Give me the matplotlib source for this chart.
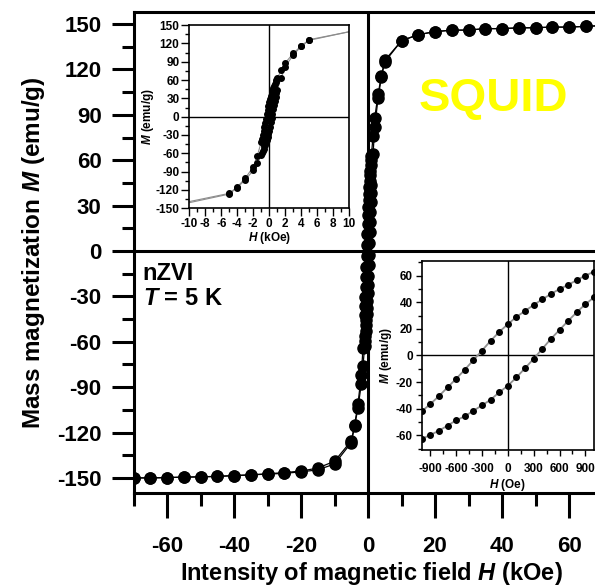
import numpy as np
import matplotlib
matplotlib.use("Agg")
import matplotlib.pyplot as plt
from matplotlib.ticker import MultipleLocator

plt.rcParams["font.family"] = ["Liberation Sans", "DejaVu Sans"]
plt.rcParams["font.weight"] = "bold"
plt.rcParams["axes.unicode_minus"] = False
plt.rcParams["mathtext.fontset"] = "custom"
plt.rcParams["mathtext.it"] = "Liberation Sans:italic:bold"
plt.rcParams["mathtext.rm"] = "Liberation Sans:bold"

# descending branch (+70 kOe -> -70 kOe)
H_down = [70, 65, 60, 55, 50, 45, 40, 35, 30, 25, 20, 15, 10,
          5, 4, 3, 2, 1.5,
          1.0, 0.9, 0.8, 0.7, 0.6, 0.5, 0.4, 0.3, 0.2, 0.1, 0.0,
          -0.1, -0.2, -0.3, -0.4, -0.5, -0.6, -0.7, -0.8, -0.9, -1.0,
          -1.5, -2, -3, -4, -5,
          -10, -15, -20, -25, -30, -35, -40, -45, -50, -55, -60, -65, -70]
M_down = [149, 148.5, 148, 148, 147.6, 147.5, 147, 147, 146, 146, 145, 143, 139,
          126, 116, 103.5, 88, 76,
          63, 60, 56.7, 53, 50, 46.2, 42.2, 38, 33.5, 29, 23.5,
          17.7, 11, 3.7, -3.5, -10.7, -17.5, -24, -30.5, -36.5, -42,
          -64, -82, -101, -115, -125.5,
          -139, -143.5, -145.5, -146.5, -147.3, -148, -148.5, -149, -149.3, -149.5, -149.8, -150, -150]

# ascending branch (-70 kOe -> +70 kOe)
H_up = [-70, -65, -60, -55, -50, -45, -40, -35, -30, -25, -20, -15, -10,
        -5, -4, -3, -2, -1.5,
        -1.0, -0.9, -0.8, -0.7, -0.6, -0.5, -0.4, -0.3, -0.2, -0.1, 0.0,
        0.1, 0.2, 0.3, 0.4, 0.5, 0.6, 0.7, 0.8, 0.9, 1.0,
        1.5, 2, 3, 4, 5,
        10, 15, 20, 25, 30, 35, 40, 45, 50, 55, 60, 65, 70]
M_up = [-150, -150, -149.8, -149.5, -149.3, -149, -148.5, -148, -147.5, -147, -146, -144.7, -140.8,
        -126.7, -116, -103.5, -88, -76,
        -62.7, -59.7, -56.5, -52.7, -48.7, -45.7, -41.5, -37.5, -33.2, -27.7, -22.7,
        -16.5, -9.5, -2.5, 5, 12.5, 19.2, 26, 32.5, 38.5, 43.7,
        64, 82, 101, 115, 125,
        139, 143, 145, 146, 146, 147, 147, 147.5, 147.6, 148, 148, 148.5, 149]

branches = [(np.array(H_down), np.array(M_down)), (np.array(H_up), np.array(M_up))]

fig = plt.figure(figsize=(5.95, 5.87), dpi=100)

# main plot
ax = fig.add_axes([0.2244, 0.1601, 0.7995, 0.8195])
ax.axhline(0, color="black", lw=2.2, zorder=1)
ax.axvline(0, color="black", lw=2.2, zorder=1)
for H, M in branches:
    ax.plot(H, M, "-", color="black", lw=0.9, marker="o", ms=8, zorder=3)

ax.set_xlim(-70, 72)
ax.set_ylim(-160, 158)
ax.set_xticks([-60, -40, -20, 0, 20, 40, 60])
ax.set_yticks(np.arange(-150, 151, 30))
ax.xaxis.set_minor_locator(MultipleLocator(10))
ax.yaxis.set_minor_locator(MultipleLocator(15))
ax.tick_params(which="major", direction="out", length=18, width=2.2, labelsize=16, pad=13)
ax.tick_params(which="minor", direction="out", length=9, width=2.2)
ax.tick_params(axis="y", which="major", length=16, pad=7)
for s in ax.spines.values():
    s.set_linewidth(2.2)
for lab in ax.get_xticklabels() + ax.get_yticklabels():
    lab.set_fontweight("bold")
ax.set_xlabel("Intensity of magnetic field $H$ (kOe)", fontsize=17, fontweight="bold", labelpad=2)
ax.set_ylabel("Mass magnetization $M$ (emu/g)", fontsize=17.5, fontweight="bold", labelpad=7)

fig.text(0.830, 0.832, "SQUID", color="#ffff00", fontsize=34, fontweight="bold",
         ha="center", va="center")
fig.text(0.240, 0.523, "nZVI", fontsize=17, fontweight="bold", va="baseline")
fig.text(0.240, 0.4804, "$T$ = 5 K", fontsize=17, fontweight="bold", va="baseline")

# inset: +-10 kOe
ax1 = fig.add_axes([0.318, 0.6451, 0.269, 0.3123])
ax1.axhline(0, color="black", lw=1, zorder=1)
ax1.axvline(0, color="black", lw=1, zorder=1)
for H, M in branches:
    ax1.plot(H, M, "-", color="#8c8c8c", lw=0.8, zorder=2)
    near = np.abs(H) <= 5
    ax1.plot(H[near], M[near], "o", color="black", ms=4, zorder=3)
ax1.set_xlim(-10, 10)
ax1.set_ylim(-150, 150)
ax1.set_xticks(np.arange(-10, 11, 2))
ax1.set_yticks(np.arange(-150, 151, 30))
ax1.xaxis.set_minor_locator(MultipleLocator(1))
ax1.yaxis.set_minor_locator(MultipleLocator(15))
ax1.tick_params(which="major", direction="out", length=5.5, width=1, labelsize=8.5, pad=1.5)
ax1.tick_params(which="minor", direction="out", length=3, width=1)
for s in ax1.spines.values():
    s.set_linewidth(1.2)
for lab in ax1.get_xticklabels() + ax1.get_yticklabels():
    lab.set_fontweight("bold")
ax1.set_xlabel("$H$ (kOe)", fontsize=8.5, fontweight="bold", labelpad=0)
ax1.set_ylabel("$M$ (emu/g)", fontsize=8.5, fontweight="bold", labelpad=0)

# inset: +-1000 Oe
ax2 = fig.add_axes([0.7087, 0.2334, 0.2896, 0.322])
ax2.axhline(0, color="black", lw=1, zorder=1)
ax2.axvline(0, color="black", lw=1, zorder=1)
for H, M in branches:
    low = np.abs(H) <= 1.0001
    ax2.plot(H[low] * 1000, M[low], "-", color="#909090", lw=1.3, marker="o",
             ms=4, mfc="black", mec="black", zorder=3)
ax2.set_xlim(-1000, 1000)
ax2.set_ylim(-71, 71)
ax2.set_xticks(np.arange(-900, 901, 300))
ax2.set_yticks(np.arange(-60, 61, 20))
ax2.xaxis.set_minor_locator(MultipleLocator(150))
ax2.yaxis.set_minor_locator(MultipleLocator(10))
ax2.tick_params(which="major", direction="out", length=4.5, width=1, labelsize=8.5, pad=2)
ax2.tick_params(axis="x", which="major", pad=5)
ax2.tick_params(which="minor", direction="out", length=3, width=1)
for s in ax2.spines.values():
    s.set_linewidth(1.2)
for lab in ax2.get_xticklabels() + ax2.get_yticklabels():
    lab.set_fontweight("bold")
ax2.set_xlabel("$H$ (Oe)", fontsize=8.5, fontweight="bold", labelpad=1)
ax2.set_ylabel("$M$ (emu/g)", fontsize=8.5, fontweight="bold", labelpad=1)

fig.savefig("out.png", dpi=100)
